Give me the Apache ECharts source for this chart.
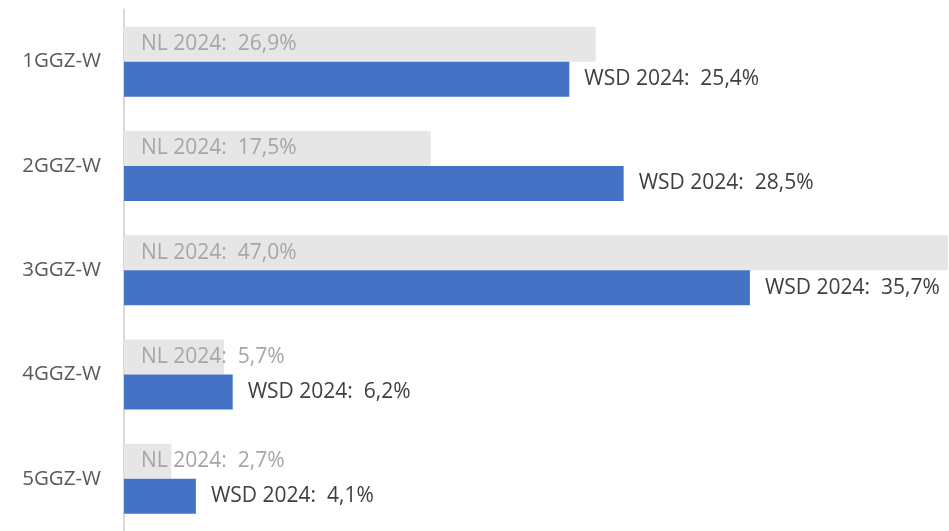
<!DOCTYPE html>
<html>
<head>
<meta charset="utf-8">
<script src="https://cdn.jsdelivr.net/npm/echarts@6/dist/echarts.min.js"></script>
<style>
    html, body { margin: 0; padding: 0; background: #fff; }
    #chart { width: 949px; height: 531px; }
</style>
</head>
<body>
<div id="chart"></div>
<script>
// categories and values (percent)
var categories = ['1GGZ-W', '2GGZ-W', '3GGZ-W', '4GGZ-W', '5GGZ-W'];
var nlValues = [26.9, 17.5, 47.0, 5.7, 2.7];
var wsdValues = [25.4, 28.5, 35.7, 6.2, 4.1];

function pct(v) {
    return v.toFixed(1).replace('.', ',') + '%';
}

var fontFamily = 'Open Sans, Noto Sans, sans-serif';

var myChart = echarts.init(document.getElementById('chart'));
myChart.setOption({
    animation: false,
    grid: {
        left: 124,
        right: 1,
        top: 9.5,
        height: 525
    },
    xAxis: {
        type: 'value',
        min: 0,
        max: 47,
        show: false
    },
    yAxis: {
        type: 'category',
        inverse: true,
        data: categories,
        axisLine: { show: true, lineStyle: { color: '#d9d9d9', width: 2 } },
        axisTick: { show: false },
        axisLabel: {
            margin: 23,
            fontSize: 20.5,
            color: '#595959',
            fontFamily: fontFamily
        }
    },
    series: [
        {
            name: 'NL 2024',
            type: 'bar',
            data: nlValues,
            barWidth: 35,
            barGap: '0%',
            itemStyle: { color: '#e6e6e6' },
            label: {
                show: true,
                position: 'insideLeft',
                distance: 17,
                fontSize: 21,
                color: '#a6a6a6',
                fontFamily: fontFamily,
                formatter: function(p) {
                    return 'NL 2024:  ' + pct(p.value);
                }
            }
        },
        {
            name: 'WSD 2024',
            type: 'bar',
            data: wsdValues,
            barWidth: 35,
            barGap: '0%',
            itemStyle: { color: '#4472c4' },
            label: {
                show: true,
                position: 'right',
                distance: 15,
                fontSize: 21,
                color: '#404040',
                fontFamily: fontFamily,
                formatter: function(p) {
                    return 'WSD 2024:  ' + pct(p.value);
                }
            }
        }
    ]
});
</script>
</body>
</html>
